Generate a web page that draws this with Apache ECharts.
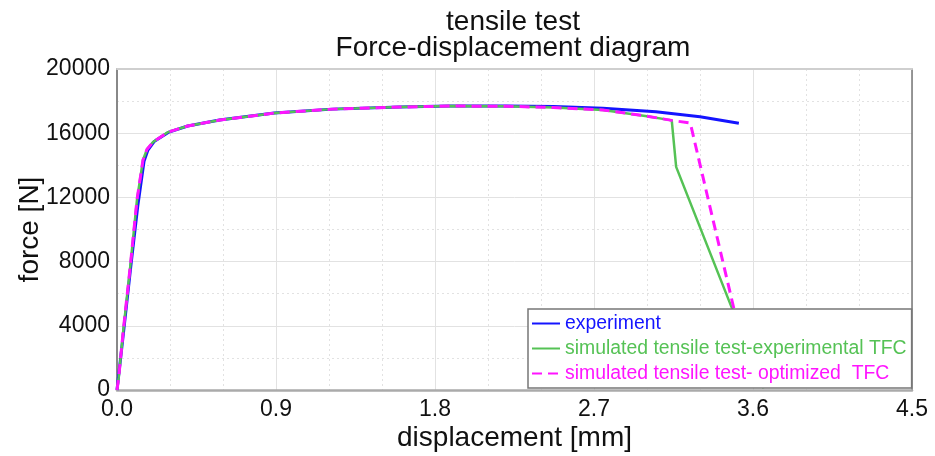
<!DOCTYPE html>
<html>
<head>
<meta charset="utf-8">
<script src="https://cdn.jsdelivr.net/npm/echarts@6/dist/echarts.min.js"></script>
<style>
  html, body { margin: 0; padding: 0; background: #fff; }
  #chart { width: 935px; height: 456px; }
</style>
</head>
<body>
<div id="chart"></div>
<script>
// displacement [mm] / force [N]
const expX = [0, 0.036, 0.077, 0.118, 0.153, 0.175, 0.21, 0.29, 0.4, 0.58, 0.89, 1.22, 1.6, 1.88, 2.2, 2.47, 2.75, 3.05, 3.3, 3.52]
const expY = [0, 3500, 7600, 11500, 14250, 14950, 15480, 16050, 16450, 16820, 17260, 17500, 17630, 17690, 17700, 17660, 17560, 17340, 17020, 16620]

const simExpX = [0, 0.01, 0.034, 0.075, 0.113, 0.147, 0.17, 0.204, 0.289, 0.4, 0.583, 0.894, 1.22, 1.6, 1.885, 2.2, 2.47, 2.75, 3.0, 3.14, 3.165, 3.66]
const simExpY = [0, 800, 3550, 7700, 11840, 14330, 15000, 15450, 16070, 16450, 16820, 17260, 17500, 17630, 17690, 17680, 17600, 17450, 17060, 16800, 13900, 100]

const simOptX = [0, 0.01, 0.034, 0.075, 0.113, 0.147, 0.17, 0.204, 0.289, 0.4, 0.583, 0.894, 1.22, 1.6, 1.885, 2.2, 2.47, 2.75, 3.0, 3.14, 3.245, 3.6]
const simOptY = [0, 800, 3550, 7700, 11840, 14330, 15000, 15450, 16070, 16450, 16820, 17260, 17500, 17630, 17690, 17680, 17600, 17450, 17060, 16800, 16630, 0]

const seriesNames = ['experiment', 'simulated tensile test-experimental TFC', 'simulated tensile test- optimized  TFC']
const seriesColors = ['#1414ff', '#55c255', '#ff14ff']

const pairs = (xs, ys) => xs.map((x, i) => [x, ys[i]])

const chart = echarts.init(document.getElementById('chart'))

const gridLine = '#e2e2e2'
const font = 'Liberation Sans, Arial, sans-serif'

const option = {
  animation: false,
  textStyle: { fontFamily: font },
  graphic: [
    {
      type: 'text',
      x: 513,
      y: 9,
      style: {
        text: 'tensile test\nForce-displacement diagram',
        align: 'center',
        fill: '#111',
        font: '28px ' + font,
        lineHeight: 26
      }
    }
  ],
  grid: { left: 117, right: 23, top: 69, bottom: 66, containLabel: false, outerBoundsMode: 'none' },
  legend: {
    orient: 'vertical',
    left: 528,
    top: 309,
    z: 20,
    padding: [5, 5, 5, 3],
    itemGap: 6,
    itemWidth: 28,
    itemHeight: 14,
    backgroundColor: '#fff',
    borderColor: '#777',
    borderWidth: 1.5,
    borderRadius: 0,
    itemStyle: { opacity: 0 },
    textStyle: { fontSize: 19.4, fontFamily: font },
    data: seriesNames.map((n, i) => ({ name: n, textStyle: { color: seriesColors[i] } }))
  },
  xAxis: [
    {
      type: 'value',
      min: 0,
      max: 4.5,
      interval: 0.9,
      name: 'displacement [mm]',
      nameLocation: 'middle',
      nameGap: 34,
      nameMoveOverlap: false,
      nameTextStyle: { fontSize: 28, color: '#111', fontFamily: font },
      axisLine: { show: true, onZero: false, lineStyle: { color: '#aaa', width: 2.5 } },
      axisTick: { show: false },
      axisLabel: { fontSize: 23, color: '#111', margin: 8, formatter: v => v.toFixed(1) },
      splitLine: { show: true, lineStyle: { color: gridLine, width: 1 } },
      minorTick: { show: false, splitNumber: 3 },
      minorSplitLine: { show: true, lineStyle: { color: gridLine, type: [2, 3], width: 1 } }
    },
    {
      type: 'value',
      position: 'top',
      min: 0,
      max: 4.5,
      axisLine: { show: true, onZero: false, lineStyle: { color: '#cfcfcf', width: 2 } },
      axisTick: { show: false },
      axisLabel: { show: false },
      splitLine: { show: false }
    }
  ],
  yAxis: [
    {
      type: 'value',
      min: 0,
      max: 20000,
      interval: 4000,
      name: 'force [N]',
      nameLocation: 'middle',
      nameGap: 73,
      nameMoveOverlap: false,
      nameTextStyle: { fontSize: 28, color: '#111', fontFamily: font },
      axisLine: { show: true, onZero: false, lineStyle: { color: '#888', width: 2 } },
      axisTick: { show: false },
      axisLabel: { fontSize: 23, color: '#111', margin: 7, formatter: v => String(v) },
      splitLine: { show: true, lineStyle: { color: gridLine, width: 1 } },
      minorTick: { show: false, splitNumber: 2 },
      minorSplitLine: { show: true, lineStyle: { color: gridLine, type: [2, 3], width: 1 } }
    },
    {
      type: 'value',
      position: 'right',
      min: 0,
      max: 20000,
      axisLine: { show: true, onZero: false, lineStyle: { color: '#777', width: 1.5 } },
      axisTick: { show: false },
      axisLabel: { show: false },
      splitLine: { show: false }
    }
  ],
  series: [
    {
      name: seriesNames[0],
      type: 'line',
      data: pairs(expX, expY),
      showSymbol: false,
      symbol: 'none',
      lineStyle: { color: seriesColors[0], width: 3 },
      itemStyle: { color: seriesColors[0] },
      z: 2
    },
    {
      name: seriesNames[1],
      type: 'line',
      data: pairs(simExpX, simExpY),
      showSymbol: false,
      symbol: 'none',
      lineStyle: { color: seriesColors[1], width: 2.5 },
      itemStyle: { color: seriesColors[1] },
      z: 3
    },
    {
      name: seriesNames[2],
      type: 'line',
      data: pairs(simOptX, simOptY),
      showSymbol: false,
      symbol: 'none',
      lineStyle: { color: seriesColors[2], width: 3, type: [10, 6] },
      itemStyle: { color: seriesColors[2] },
      z: 4
    }
  ]
}

chart.setOption(option)
</script>
</body>
</html>
